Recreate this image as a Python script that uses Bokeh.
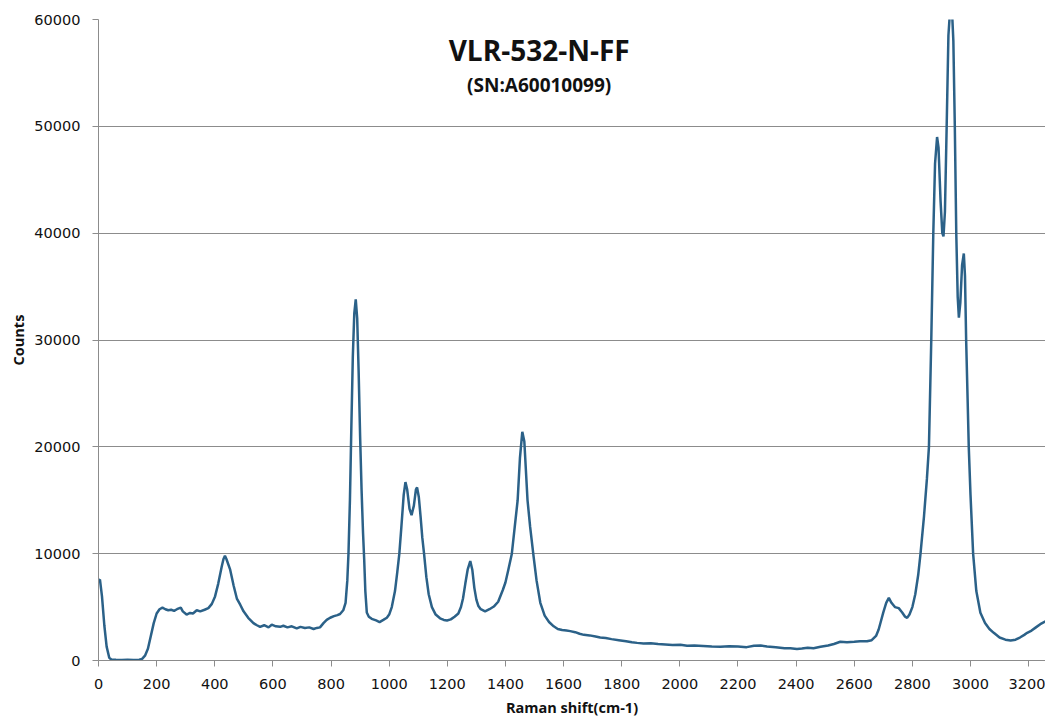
from bokeh.plotting import figure
from bokeh.models import Label, FixedTicker, BasicTickFormatter, Range1d
from bokeh.embed import file_html
from bokeh.resources import INLINE

# ---- data ----
raman_shift = [
    0, 5, 12, 20, 28, 37, 45, 60, 80, 100, 120, 140, 150, 160, 170, 180, 190, 200,
    210, 220, 230, 240, 250, 260, 270, 283, 290, 303, 315, 325, 338, 350, 365, 378,
    390, 401, 412, 424, 430, 435, 440, 453, 465, 476, 488, 499, 515, 533, 545, 556,
    570, 585, 596, 610, 625, 636, 650, 665, 682, 695, 710, 725, 740, 751, 762, 774,
    785, 797, 810, 822, 831, 842, 850, 856, 860, 865, 870, 875, 880, 885, 890, 895,
    900, 905, 910, 914, 918, 923, 930, 940, 955, 967, 980, 992, 1000, 1009, 1020,
    1028, 1035, 1042, 1050, 1056, 1062, 1070, 1077, 1085, 1092, 1096, 1102, 1108,
    1114, 1120, 1128, 1136, 1147, 1160, 1175, 1188, 1199, 1212, 1225, 1238, 1247,
    1254, 1262, 1270, 1279, 1286, 1293, 1300, 1307, 1315, 1330, 1345, 1360, 1375,
    1391, 1400, 1410, 1422, 1432, 1442, 1450, 1458, 1465, 1470, 1476, 1485, 1497,
    1507, 1520, 1535, 1550, 1566, 1580, 1595, 1610, 1623, 1640, 1655, 1670, 1690,
    1710, 1726, 1745, 1765, 1790, 1815, 1835, 1853, 1875, 1900, 1925, 1950, 1975,
    2002, 2025, 2050, 2080, 2110, 2140, 2170, 2200, 2230, 2255, 2278, 2300, 2330,
    2360, 2380, 2403, 2420, 2440, 2460, 2484, 2510, 2530, 2552, 2575, 2600, 2620,
    2644, 2660, 2675, 2684, 2692, 2700, 2710, 2719, 2728, 2740, 2753, 2765, 2775,
    2782, 2790, 2800, 2810, 2820, 2828, 2840, 2850, 2857, 2865, 2872, 2878, 2885,
    2890, 2897, 2903, 2907, 2912, 2918, 2924, 2930, 2936, 2941, 2946, 2951, 2956,
    2960, 2965, 2971, 2977, 2981, 2985, 2990, 2994, 3000, 3009, 3020, 3034, 3050,
    3065, 3080, 3100, 3120, 3138, 3155, 3170, 3185, 3195, 3210, 3225, 3240, 3258,
]
counts = [
    7500, 7570, 6000, 3300, 1300, 250, 80, 60, 50, 70, 50, 80, 150, 450, 1100, 2300, 3500, 4400,
    4800, 4950, 4800, 4700, 4750, 4650, 4800, 4950, 4600, 4300, 4450, 4400, 4700, 4600, 4750, 4900,
    5300, 6000, 7200, 8800, 9500, 9800, 9500, 8500, 7000, 5800, 5200, 4600, 4000, 3500, 3300, 3150,
    3300, 3100, 3350, 3200, 3150, 3250, 3100, 3200, 3000, 3150, 3050, 3100, 2950, 3050, 3100, 3500,
    3800, 4000, 4150, 4250, 4350, 4700, 5400, 7500, 10000, 15000, 22000, 28500, 32500, 33800, 32000, 27000,
    21000, 16000, 12000, 9500, 6500, 4500, 4100, 3900, 3750, 3600, 3800, 4000, 4300, 5000, 6500,
    8300, 10000, 12500, 15500, 16700, 16000, 14200, 13600, 14500, 16000, 16200, 15300, 13500,
    11500, 10000, 7800, 6200, 5000, 4300, 3950, 3800, 3750, 3850, 4100, 4400, 5000,
    5800, 7200, 8500, 9300, 8500, 6800, 5700, 5100, 4800, 4600, 4800, 5050, 5500,
    6600, 7300, 8500, 10000, 12500, 15000, 19000, 21400, 20500, 18000, 15000, 12500, 9700,
    7500, 5400, 4200, 3600, 3200, 2950, 2850, 2800, 2750, 2650, 2500, 2400, 2350,
    2250, 2150, 2100, 2000, 1900, 1800, 1700, 1650, 1600, 1620, 1550, 1500, 1450,
    1480, 1380, 1400, 1350, 1300, 1280, 1330, 1300, 1250, 1380, 1400, 1320, 1250,
    1150, 1150, 1080, 1120, 1200, 1150, 1280, 1400, 1550, 1750, 1700, 1750, 1800,
    1800, 1900, 2300, 2900, 3700, 4500, 5400, 5860, 5400, 5000, 4900, 4500, 4100,
    3990, 4300, 5000, 6200, 8000, 10000, 13500, 17000, 20000, 30000, 40000, 46500, 49000,
    48000, 43000, 40000, 39700, 42000, 50000, 58500, 61000, 61000, 58000, 50000, 40000, 34000,
    32100, 33500, 37000, 38100, 36000, 30000, 24500, 20000, 15500, 10000, 6500, 4460, 3500,
    2950, 2590, 2150, 1950, 1870, 1950, 2150, 2400, 2590, 2800, 3100, 3400, 3670,
]
x_ticks = list(range(0, 3201, 200))
y_ticks = [0, 10000, 20000, 30000, 40000, 50000, 60000]
title_text = "VLR-532-N-FF"
subtitle_text = "(SN:A60010099)"
x_label = "Raman shift(cm-1)"
y_label = "Counts"

# ---- figure ----
p = figure(
    frame_width=947, frame_height=641,
    x_range=Range1d(0, 3258), y_range=Range1d(0, 60000),
    output_backend="svg", toolbar_location=None,
    min_border_left=98, min_border_top=19, min_border_right=0, min_border_bottom=20,
)
p.outline_line_color = None
p.background_fill_color = "white"
p.border_fill_color = "white"

p.line(raman_shift, counts, line_color="#2b6188", line_width=2.5)

grid_col = "#8c8c8c"
p.xgrid.grid_line_color = None
p.ygrid.grid_line_color = grid_col
p.ygrid.grid_line_width = 1
p.xaxis.ticker = FixedTicker(ticks=x_ticks)
p.yaxis.ticker = FixedTicker(ticks=y_ticks)
p.yaxis.formatter = BasicTickFormatter(use_scientific=False)

for ax in (p.xaxis, p.yaxis):
    ax.axis_line_color = grid_col
    ax.major_tick_line_color = grid_col
    ax.major_tick_out = 6
    ax.major_tick_in = 0
    ax.minor_tick_line_color = None
    ax.major_label_text_font = "DejaVu Sans"
    ax.major_label_text_font_size = "14.5px"
    ax.major_label_text_color = "#111111"
    ax.axis_label_text_font = "Open Sans"
    ax.axis_label_text_font_style = "bold"
    ax.axis_label_text_font_size = "14.5px"
    ax.axis_label_text_color = "#111111"

p.xaxis.axis_label = x_label
p.yaxis.axis_label = y_label
p.xaxis.major_label_standoff = 12
p.yaxis.major_label_standoff = 12
p.xaxis.axis_label_standoff = 6
p.yaxis.axis_label_standoff = 3

# title inside plot area
p.add_layout(Label(x=1516, y=57100, text=title_text, text_align="center",
                   text_baseline="middle", text_font="Open Sans",
                   text_font_style="bold", text_font_size="28px",
                   text_color="#111111"))
p.add_layout(Label(x=1516, y=53830, text=subtitle_text, text_align="center",
                   text_baseline="middle", text_font="Open Sans",
                   text_font_style="bold", text_font_size="19px",
                   text_color="#111111"))

open("out.html", "w").write(file_html(p, INLINE))
